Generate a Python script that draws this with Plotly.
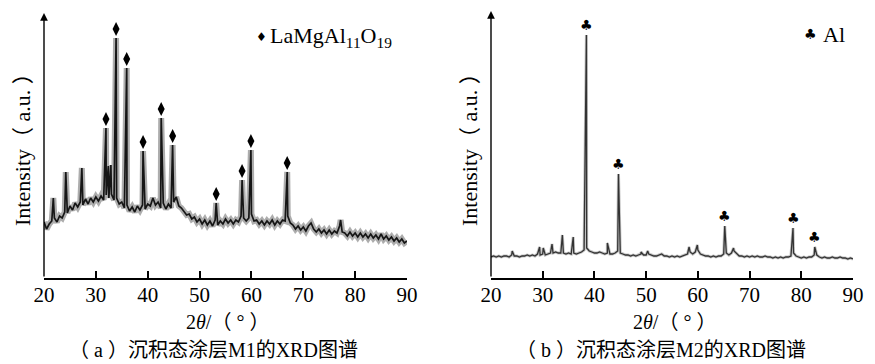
import numpy as np
import plotly.graph_objects as go

# ---------------- M1 coating (LaMgAl11O19) ----------------
# background trace sampled every 0.5 deg from 20 to 90
m1_grid_start, m1_grid_step = 20.0, 0.5
m1_background = [
    56, 49, 54, 57, 60, 56, 62, 60, 66, 65,
    72, 68, 75, 71, 76, 73, 79, 74, 80, 76,
    81, 77, 82, 78, 83, 80, 84, 78, 80, 74,
    76, 70, 73, 67, 71, 66, 72, 68, 73, 69,
    74, 72, 80, 73, 76, 70, 75, 69, 74, 70,
    76, 81, 72, 70, 67, 63, 64, 59, 61, 56,
    59, 54, 58, 53, 57, 52, 58, 53, 57, 54,
    59, 55, 58, 54, 58, 56, 62, 60, 57, 60,
    64, 57, 58, 54, 57, 53, 57, 54, 58, 53,
    57, 54, 58, 57, 62, 55, 53, 49, 52, 48,
    51, 47, 52, 55, 49, 46, 49, 45, 48, 44,
    48, 44, 47, 45, 52, 46, 45, 42, 46, 42,
    45, 41, 45, 41, 44, 40, 44, 40, 43, 39,
    44, 39, 42, 38, 41, 37, 40, 36, 39, 35,
    37,
]
# diffraction peaks (2theta, apex intensity)
m1_peak_pos = [21.8, 24.2, 27.3, 31.95, 32.4, 32.9, 33.9, 35.95, 39.1,
               42.6, 44.8, 53.2, 58.2, 59.9, 66.9, 77.2]
m1_peak_int = [80, 106, 110, 150, 112, 113, 240, 210, 127,
               160, 133, 75, 98, 128, 106, 58]
# peaks indexed to LaMgAl11O19
m1_phase_pos = [31.95, 33.9, 35.95, 39.1, 42.6, 44.8, 53.2, 58.2, 59.9, 66.9]
m1_phase_int = [150, 240, 210, 127, 160, 133, 75, 98, 128, 106]

# ---------------- M2 coating (Al) ----------------
m2_grid_start, m2_grid_step = 20.0, 0.5
m2_background = [
    21, 22, 21, 22, 21, 22, 22, 21, 23, 22,
    22, 21, 22, 22, 23, 22, 23, 22, 24, 23,
    24, 23, 24, 25, 25, 26, 25, 25, 25, 24,
    25, 24, 25, 24, 25, 26, 28, 30, 27, 26,
    25, 25, 26, 25, 24, 25, 24, 24, 25, 27,
    25, 24, 23, 23, 22, 23, 22, 23, 24, 23,
    23, 24, 23, 22, 22, 23, 24, 22, 22, 21,
    22, 21, 22, 21, 22, 23, 24, 26, 24, 26,
    28, 24, 23, 22, 22, 21, 22, 21, 22, 22,
    24, 25, 23, 25, 27, 24, 22, 22, 21, 22,
    21, 22, 21, 22, 21, 21, 22, 21, 21, 20,
    21, 20, 21, 20, 21, 21, 22, 25, 22, 21,
    20, 21, 20, 21, 21, 23, 23, 21, 20, 21,
    20, 20, 21, 20, 20, 21, 20, 20, 19, 20,
    19,
]
m2_peak_pos = [24.1, 29.4, 30.1, 31.8, 33.8, 35.9, 38.45, 42.5, 44.65,
               49.0, 50.3, 58.3, 59.9, 65.2, 66.9, 78.4, 82.6]
m2_peak_int = [27, 31, 30, 34, 43, 41, 243, 35, 104,
               26, 27, 31, 33, 52, 30, 50, 31]
m2_phase_pos = [38.45, 44.65, 65.2, 78.4, 82.6]
m2_phase_int = [243, 104, 52, 50, 31]

x_ticks = [20, 30, 40, 50, 60, 70, 80, 90]
x_title = "2<i>θ</i>/（ ° ）"
y_title = "Intensity（ a.u. ）"
captions = ["（ a ）沉积态涂层M1的XRD图谱", "（ b ）沉积态涂层M2的XRD图谱"]


def merge(start, step, background, peak_pos, peak_int):
    grid = start + step * np.arange(len(background))
    x = np.concatenate([grid, np.asarray(peak_pos, float)])
    y = np.concatenate([np.asarray(background, float), np.asarray(peak_int, float)])
    order = np.argsort(x, kind="stable")
    return x[order], y[order]


m1_x, m1_y = merge(m1_grid_start, m1_grid_step, m1_background, m1_peak_pos, m1_peak_int)
m2_x, m2_y = merge(m2_grid_start, m2_grid_step, m2_background, m2_peak_pos, m2_peak_int)

W, H = 875, 364
SERIF = "Liberation Serif, Times New Roman, Noto Sans CJK SC, serif"

# panel frames in pixels: left, right, bottom, top
panels = [(44, 407, 278, 13), (491, 853, 278, 11)]
caption_cx = [213, 661]

fig = go.Figure()

# M1: soft halo + dark core
fig.add_trace(go.Scatter(x=m1_x, y=m1_y, mode="lines", xaxis="x", yaxis="y",
                         line=dict(color="rgba(40,40,40,0.38)", width=6),
                         hoverinfo="skip", showlegend=False))
fig.add_trace(go.Scatter(x=m1_x, y=m1_y, mode="lines", xaxis="x", yaxis="y",
                         line=dict(color="#161616", width=1.7),
                         showlegend=False))
fig.add_trace(go.Scatter(x=m1_phase_pos, y=[v + 9 for v in m1_phase_int],
                         mode="markers", xaxis="x", yaxis="y",
                         marker=dict(symbol="diamond-tall", size=10, color="black"),
                         showlegend=False))

# M2 pattern
fig.add_trace(go.Scatter(x=m2_x, y=m2_y, mode="lines", xaxis="x2", yaxis="y2",
                         line=dict(color="rgba(60,60,60,0.3)", width=3),
                         hoverinfo="skip", showlegend=False))
fig.add_trace(go.Scatter(x=m2_x, y=m2_y, mode="lines", xaxis="x2", yaxis="y2",
                         line=dict(color="#333333", width=1.3),
                         showlegend=False))

annotations = []
for xp, yp in zip(m2_phase_pos, m2_phase_int):
    annotations.append(dict(x=xp, y=yp, xref="x2", yref="y2", text="♣",
                            showarrow=False, xanchor="center", yanchor="middle",
                            yshift=10,
                            font=dict(family="DejaVu Sans", size=14, color="black")))


def axis_common():
    return dict(range=[20, 90], tickvals=x_ticks, ticks="inside", ticklen=7,
                tickwidth=1.5, tickcolor="black", showline=True, linewidth=1.5,
                linecolor="black", showgrid=False, zeroline=False, automargin=False,
                tickfont=dict(family=SERIF, size=21, color="black"),
                ticklabelstandoff=-3)


def yaxis_common(top):
    return dict(range=[0, top], visible=False, showgrid=False, zeroline=False,
                automargin=False)


def px_x(p):
    return p / W


def px_y(p):
    return 1 - p / H


def label(x, y, text, size=20, family=SERIF, xanchor="center", angle=0):
    return dict(x=px_x(x), y=px_y(y), xref="paper", yref="paper", text=text,
                showarrow=False, xanchor=xanchor, yanchor="middle", textangle=angle,
                font=dict(family=family, size=size, color="black"))


(l1, r1, b1, t1), (l2, r2, b2, t2) = panels
fig.update_layout(
    xaxis=dict(domain=[px_x(l1), px_x(r1)], anchor="y", **axis_common()),
    yaxis=dict(domain=[px_y(b1), px_y(t1)], anchor="x", **yaxis_common(b1 - t1)),
    xaxis2=dict(domain=[px_x(l2), px_x(r2)], anchor="y2", **axis_common()),
    yaxis2=dict(domain=[px_y(b2), px_y(t2)], anchor="x2", **yaxis_common(b2 - t2)),
)

for (l, r, b, t), cap, ccx in zip(panels, captions, caption_cx):
    cx = (l + r) / 2
    # vertical axis with arrow head
    annotations.append(dict(x=px_x(l), y=px_y(t), xref="paper", yref="paper",
                            ax=0, ay=b - t, text="", showarrow=True, arrowhead=2,
                            arrowsize=1.1, arrowwidth=1.4, arrowcolor="black"))
    annotations.append(label(l - 21, 144, y_title, size=22, angle=-90))
    annotations.append(label(cx + 2, 322, x_title))
    annotations.append(label(ccx, 350, cap))

# phase keys
annotations.append(label(261, 37, "♦", size=12, family="DejaVu Sans"))
annotations.append(label(268, 37, "LaMgAl<sub>11</sub>O<sub>19</sub>", size=22,
                         xanchor="left"))
annotations.append(label(810, 34, "♣", size=14, family="DejaVu Sans"))
annotations.append(label(821, 34, "Al", size=22, xanchor="left"))

fig.update_layout(width=W, height=H, margin=dict(l=0, r=0, t=0, b=0, autoexpand=False),
                  paper_bgcolor="white", plot_bgcolor="white",
                  annotations=annotations, showlegend=False)

fig.write_html("out.html", config={"displayModeBar": False})
